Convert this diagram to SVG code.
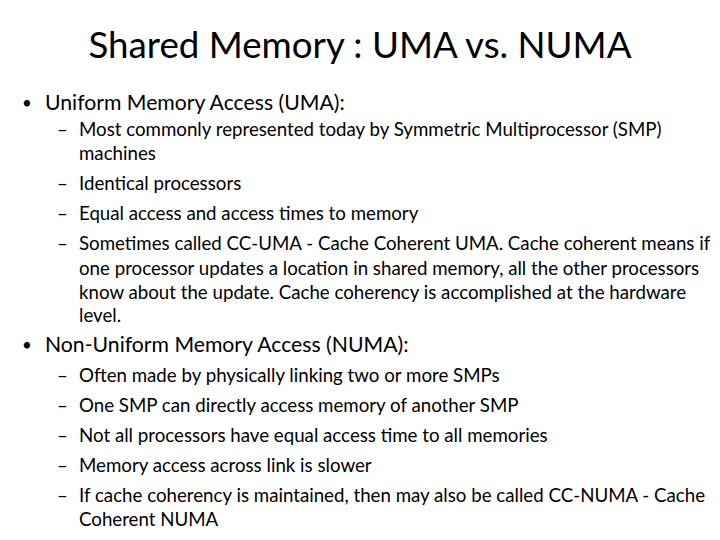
<svg xmlns="http://www.w3.org/2000/svg" width="720" height="540" viewBox="0 0 720 540">
<style>
text{font-family:Lato,"Open Sans",sans-serif;fill:#000}
.t{font-size:36.7px}
.b{font-size:21.2px}
.d{font-size:17px}
.s{font-size:18.7px}
</style>
<rect width="720" height="540" fill="#fff"/>
<text class="t" x="360" y="58" text-anchor="middle">Shared Memory : UMA vs. NUMA</text>
<g id="uma">
<text class="d" x="22" y="109">•</text><text class="b" x="45" y="110">Uniform Memory Access (UMA):</text>
<text class="s" x="57" y="136">–</text><text class="s" x="79" y="136">Most commonly represented today by Symmetric Multiprocessor (SMP)</text>
<text class="s" x="79" y="160">machines</text>
<text class="s" x="57" y="190">–</text><text class="s" x="79" y="190">Identical processors</text>
<text class="s" x="57" y="220">–</text><text class="s" x="79" y="220">Equal access and access times to memory</text>
<text class="s" x="57" y="250">–</text><text class="s" x="79" y="250">Sometimes called CC-UMA - Cache Coherent UMA. Cache coherent means if</text>
<text class="s" x="79" y="275">one processor updates a location in shared memory, all the other processors</text>
<text class="s" x="79" y="299">know about the update. Cache coherency is accomplished at the hardware</text>
<text class="s" x="79" y="322">level.</text>
</g>
<g id="numa">
<text class="d" x="22" y="351">•</text><text class="b" x="45" y="352">Non-Uniform Memory Access (NUMA):</text>
<text class="s" x="57" y="382">–</text><text class="s" x="79" y="382">Often made by physically linking two or more SMPs</text>
<text class="s" x="57" y="412">–</text><text class="s" x="79" y="412">One SMP can directly access memory of another SMP</text>
<text class="s" x="57" y="442">–</text><text class="s" x="79" y="442">Not all processors have equal access time to all memories</text>
<text class="s" x="57" y="472">–</text><text class="s" x="79" y="472">Memory access across link is slower</text>
<text class="s" x="57" y="502">–</text><text class="s" x="79" y="502">If cache coherency is maintained, then may also be called CC-NUMA - Cache</text>
<text class="s" x="79" y="526">Coherent NUMA</text>
</g>
</svg>
